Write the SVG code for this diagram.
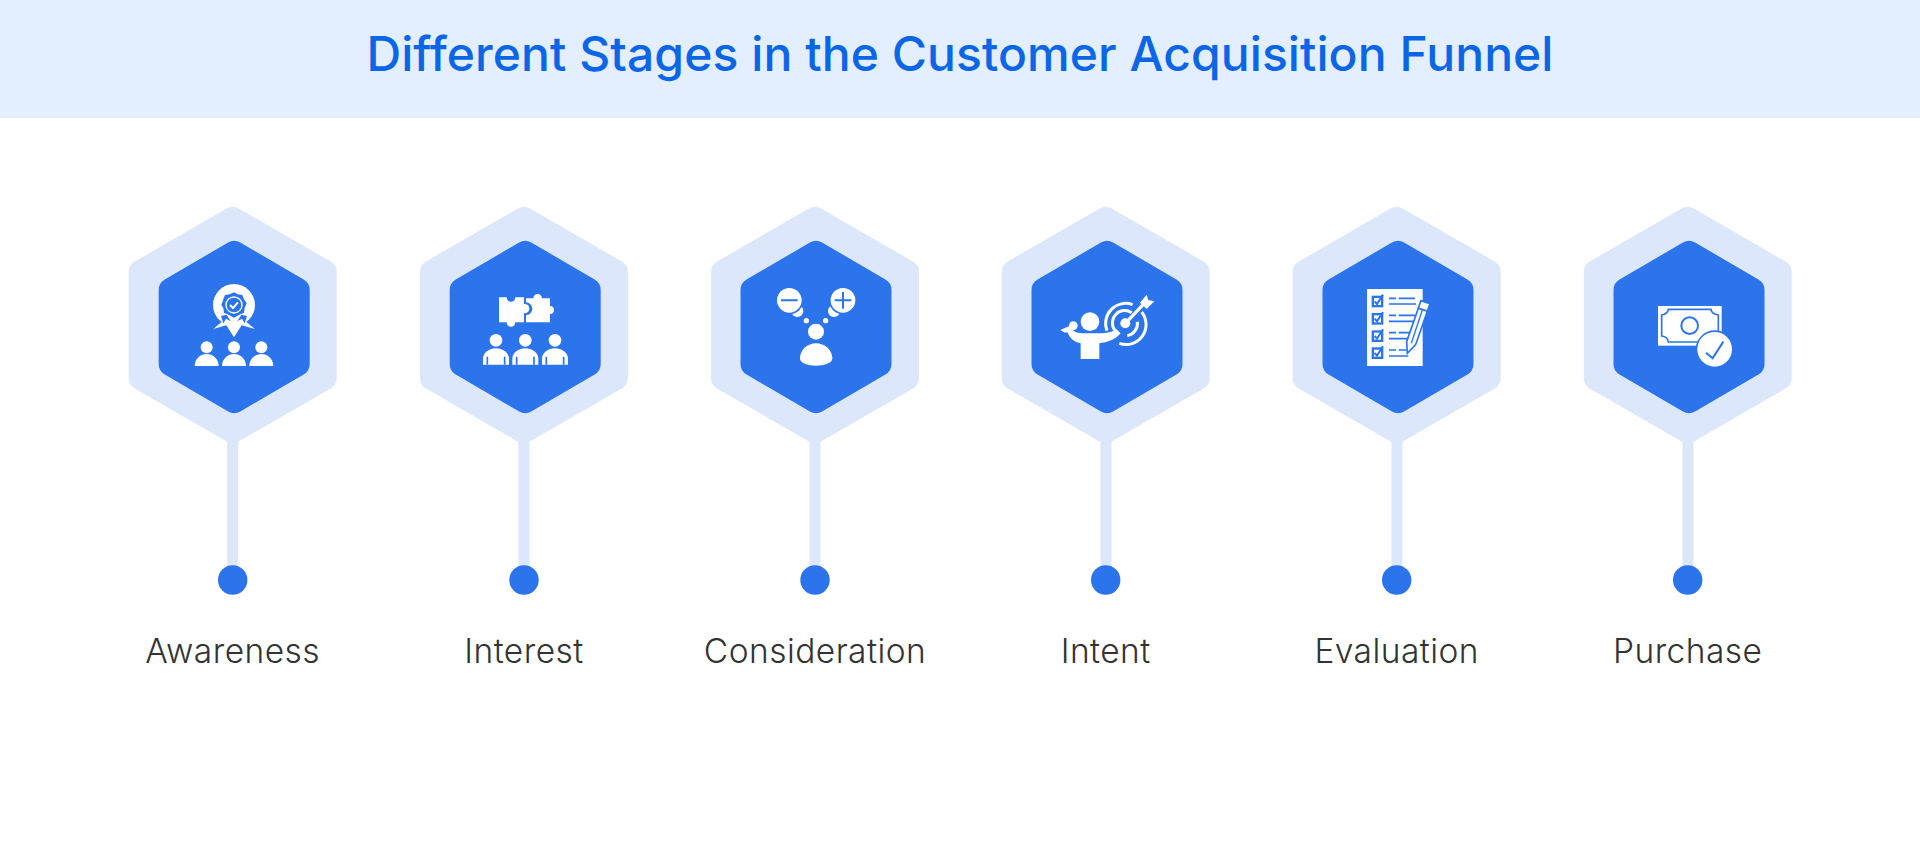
<svg xmlns="http://www.w3.org/2000/svg" width="1920" height="847" viewBox="0 0 1920 847">
<style>
.title{font-family:Inter,"Liberation Sans",sans-serif;font-size:48px;font-weight:480;letter-spacing:.08px;fill:#0a66e6;text-anchor:middle}
.label{font-family:Inter,"Liberation Sans",sans-serif;font-size:33.5px;font-weight:320;letter-spacing:.45px;fill:#333;text-anchor:middle}
.outer{fill:#dce7fc}.inner{fill:#2b74ec}.stem{fill:#dce7fc}.dot{fill:#2b74ec}
.w{fill:#fff}.b{fill:#2b74ec}.bl{fill:none;stroke:#2b74ec}.wl{fill:none;stroke:#fff}
</style>
<defs>
<path id="hexO" d="M-6.06-116.5Q0-120 6.06-116.5L97.94-63.5Q104-60 104-53L104 53Q104 60 97.94 63.5L6.06 116.5Q0 120-6.06 116.5L-97.94 63.5Q-104 60-104 53L-104-53Q-104-60-97.94-63.5Z"/>
<path id="hexI" d="M-6.06-84.5Q0-88 6.06-84.5L69.44-47.5Q75.5-44 75.5-37L75.5 37Q75.5 44 69.44 47.5L6.06 84.5Q0 88-6.06 84.5L-69.44 47.5Q-75.5 44-75.5 37L-75.5-37Q-75.5-44-69.44-47.5Z"/>
<path id="dome" d="M-36 0C-36-22-18-36 0-36C18-36 36-22 36 0Z"/>
<g id="person2"><circle cx="0" cy="-73" r="19"/><path d="M-39 0V-18C-39-36-20-49 0-49C20-49 39-36 39-18V0Z"/><path d="M-26 0V-24M26 0V-24" fill="none" stroke="#2b74ec" stroke-width="5"/></g>
<g id="checkbox"><rect x="0" y="0" width="35" height="35" class="b"/><rect x="7" y="7" width="21" height="21" class="w"/><path d="M9 17L16 25L34-3" class="bl" stroke-width="6"/></g>
</defs>
<rect id="banner" x="0" y="0" width="1920" height="118" fill="#e3eefe"/>
<text class="title" x="960" y="70.5">Different Stages in the Customer Acquisition Funnel</text>
<g id="connectors">
<rect class="stem" x="227.2" y="430" width="11" height="150"/>
<rect class="stem" x="518.5" y="430" width="11" height="150"/>
<rect class="stem" x="809.5" y="430" width="11" height="150"/>
<rect class="stem" x="1100.5" y="430" width="11" height="150"/>
<rect class="stem" x="1391.5" y="430" width="11" height="150"/>
<rect class="stem" x="1682.5" y="430" width="11" height="150"/>
</g>
<g id="node-awareness">
<use href="#hexO" class="outer" x="232.7" y="325"/><use href="#hexI" class="inner" x="234.2" y="327"/>
<circle class="dot" cx="232.7" cy="580" r="14.7"/>
<text class="label" x="232.7" y="663">Awareness</text>
<g transform="translate(100 180) scale(.3333)">
<circle class="w" cx="402" cy="375" r="63"/>
<path class="w" d="M340 447L372 420L432 420L465 447L425 436L402 472L379 436Z"/>
<path class="b" d="M363 408L370 430L378 416L392 424L380 404ZM441 408L434 430L426 416L412 424L424 404Z"/>
<path class="b" d="M402 337L413 343L427 345L432 358L440 370L434 384L432 398L418 404L402 413L386 404L372 398L370 384L364 375L370 358L375 345L389 343Z"/>
<circle class="wl" cx="402" cy="375" r="24" stroke-width="4"/>
<path class="wl" d="M390 375L399 384L414 367" stroke-width="6"/>
<g class="w"><circle cx="320" cy="502" r="18"/><circle cx="402" cy="502" r="18"/><circle cx="484" cy="502" r="18"/>
<use href="#dome" x="320" y="558"/><use href="#dome" x="402" y="558"/><use href="#dome" x="484" y="558"/></g>
</g>
</g>
<g id="node-interest">
<use href="#hexO" class="outer" x="523.9" y="325"/><use href="#hexI" class="inner" x="525.2" y="327"/>
<circle class="dot" cx="524" cy="580" r="14.7"/>
<text class="label" x="524" y="663">Interest</text>
<g transform="translate(400 180) scale(.3333)">
<path class="w" d="M297 352H320A13 13 0 0 0 346 352H372V427H346A13 13 0 1 1 320 427H297Z"/>
<path class="w" d="M378 355H400A13 13 0 1 1 426 355H450V378A12 12 0 1 1 450 402V427H378V405A18 18 0 0 0 378 367Z"/>
<circle class="w" cx="374" cy="386" r="14"/>
<g class="w"><use href="#person2" x="288" y="554"/><use href="#person2" x="376" y="554"/><use href="#person2" x="465" y="554"/></g>
</g>
</g>
<g id="node-consideration">
<use href="#hexO" class="outer" x="815" y="325"/><use href="#hexI" class="inner" x="816" y="327"/>
<circle class="dot" cx="815" cy="580" r="14.7"/>
<text class="label" x="815" y="663">Consideration</text>
<g transform="translate(690 180) scale(.3333)">
<circle class="w" cx="322" cy="393" r="18"/><circle class="w" cx="432" cy="393" r="18"/>
<circle class="b" cx="298" cy="361" r="42"/><circle class="b" cx="459" cy="361" r="42"/>
<circle class="w" cx="298" cy="361" r="37"/><circle class="w" cx="459" cy="361" r="37"/>
<path class="bl" d="M273 361H323M434 361H484M459 336V386" stroke-width="6"/>
<circle class="w" cx="349" cy="422" r="8"/><circle class="w" cx="407" cy="422" r="8"/>
<circle class="w" cx="378" cy="455" r="24"/>
<path class="w" d="M330 535C330 510 352 490 378 490C404 490 427 510 427 535C427 550 404 557 378 557C352 557 330 550 330 535Z"/>
</g>
</g>
<g id="node-intent">
<use href="#hexO" class="outer" x="1105.7" y="325"/><use href="#hexI" class="inner" x="1107" y="327"/>
<circle class="dot" cx="1105.7" cy="580" r="14.7"/>
<text class="label" x="1105.7" y="663">Intent</text>
<g transform="translate(1030 260) scale(.3333)">
<circle class="w" cx="180" cy="185" r="28"/>
<circle class="w" cx="130" cy="197" r="13"/>
<path class="w" d="M91 210L118 198L128 214L105 218Z"/>
<path class="w" d="M152 297V250C134 246 120 236 112 216L128 208C134 218 144 220 160 220H200C225 220 245 218 258 206L272 220C258 238 232 248 208 250V297Z"/>
<circle class="w" cx="286" cy="190" r="15"/>
<path class="wl" d="M286 190L345 128" stroke-width="10"/>
<path class="w" d="M330 128L350 104L355 120L373 124L350 147Z"/>
<path class="wl" d="M231 212A60 60 0 0 1 308 134M335 156A60 60 0 0 1 268 250" stroke-width="9"/>
<path class="wl" d="M254 210A37 37 0 0 1 305 158M322 185A37 37 0 0 1 292 227" stroke-width="9"/>
</g>
</g>
<g id="node-evaluation">
<use href="#hexO" class="outer" x="1396.7" y="325"/><use href="#hexI" class="inner" x="1398" y="327"/>
<circle class="dot" cx="1396.7" cy="580" r="14.7"/>
<text class="label" x="1396.7" y="663">Evaluation</text>
<g transform="translate(1320 270) scale(.3333)">
<rect class="w" x="141" y="57" width="167" height="231"/>
<use href="#checkbox" x="155" y="77"/><use href="#checkbox" x="155" y="129"/><use href="#checkbox" x="155" y="181"/><use href="#checkbox" x="155" y="232"/>
<path class="bl" stroke-width="5" d="M207 85H228M236 85H285M207 102H288M207 136H228M236 136H285M207 154H280M207 188H228M236 188H270M207 206H265M207 240H228M236 240H260M207 258H265"/>
<path class="w" stroke="#2b74ec" stroke-width="5" d="M303 92L330 101L322 124L295 115Z"/>
<path class="w" stroke="#2b74ec" stroke-width="5" d="M295 115L322 124L287 224L262 250L260 215Z"/>
<path class="bl" stroke-width="4" d="M307 120L274 220"/>
</g>
</g>
<g id="node-purchase">
<use href="#hexO" class="outer" x="1687.7" y="325"/><use href="#hexI" class="inner" x="1689" y="327"/>
<circle class="dot" cx="1687.7" cy="580" r="14.7"/>
<text class="label" x="1687.7" y="663">Purchase</text>
<g transform="translate(1610 280) scale(.3333)">
<rect class="w" x="144" y="78" width="191" height="119"/>
<path class="bl" stroke-width="5" d="M175 88H303Q305 102 325 105V168Q305 170 303 186H175Q173 170 155 168V105Q173 102 175 88Z"/>
<circle class="bl" cx="239" cy="137" r="25" stroke-width="6"/>
<circle class="b" cx="314" cy="208" r="57"/><circle class="w" cx="314" cy="208" r="52"/>
<path class="bl" stroke-width="6" d="M288 218L308 235L340 185"/>
</g>
</g>
</svg>
